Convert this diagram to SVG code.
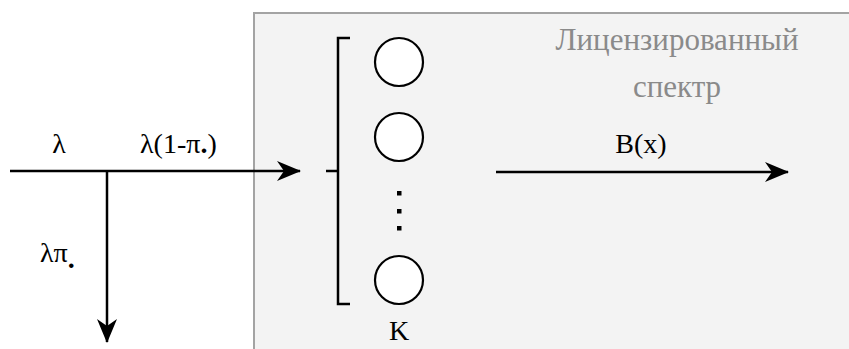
<svg xmlns="http://www.w3.org/2000/svg" width="849" height="349" viewBox="0 0 849 349">
  <defs>
    <marker id="arrow" viewBox="0 0 24 20" refX="23" refY="10" markerWidth="24" markerHeight="20" markerUnits="userSpaceOnUse" orient="auto">
      <path d="M0,0 L24,10 L0,20 L7,10 Z" fill="#000"/>
    </marker>
    <style>
      text { font-family: 'Liberation Serif', 'Times New Roman', serif !important; }
      .ln { stroke: #000; stroke-width: 2.5; fill: none; }
      .srv { stroke: #000; stroke-width: 2.2; fill: #fff; }
    </style>
  </defs>
  <rect width="849" height="349" fill="#fff"/>

  <!-- licensed spectrum zone -->
  <g id="spectrum">
    <rect x="254" y="13" width="620" height="360" fill="#f3f3f3" stroke="#a3a3a3" stroke-width="2"/>
    <text x="677" y="50" text-anchor="middle" style="font-family:'Liberation Serif', serif; font-size:31px; fill:#8a8a8a">Лицензированный</text>
    <text x="677" y="97" text-anchor="middle" style="font-family:'Liberation Serif', serif; font-size:31px; fill:#8a8a8a">спектр</text>
  </g>

  <!-- servers bank -->
  <g id="servers">
    <path class="ln" d="M350,38 H338 V304 H350 M326,171 H338"/>
    <circle class="srv" cx="399" cy="62" r="24"/>
    <circle class="srv" cx="399" cy="137" r="24"/>
    <circle class="srv" cx="399" cy="280" r="24"/>
    <rect x="397" y="191" width="4.5" height="4.5" fill="#000"/>
    <rect x="397" y="209" width="4.5" height="4.5" fill="#000"/>
    <rect x="397" y="226" width="4.5" height="4.5" fill="#000"/>
    <text x="399" y="340" text-anchor="middle" style="font-family:'Liberation Serif', serif; font-size:28px; fill:#000">K</text>
  </g>

  <!-- flows -->
  <g id="connectors">
    <line class="ln" x1="10" y1="171" x2="300" y2="171" marker-end="url(#arrow)"/>
    <line class="ln" x1="107" y1="171" x2="107" y2="342" marker-end="url(#arrow)"/>
    <line class="ln" x1="496" y1="172" x2="788" y2="172" marker-end="url(#arrow)"/>
  </g>

  <!-- flow labels -->
  <g id="labels">
    <text x="59" y="153" text-anchor="middle" style="font-family:'Liberation Serif', serif; font-size:28px; fill:#000">λ</text>
    <text x="140" y="153" style="font-family:'Liberation Serif', serif; font-size:28px; fill:#000">λ(1-π<tspan font-weight="bold">.</tspan>)</text>
    <text x="40" y="262" style="font-family:'Liberation Serif', serif; font-size:28px; fill:#000">λπ<tspan font-weight="bold" dy="6">.</tspan></text>
    <text x="641" y="153" text-anchor="middle" style="font-family:'Liberation Serif', serif; font-size:28px; fill:#000">B(x)</text>
  </g>
</svg>
